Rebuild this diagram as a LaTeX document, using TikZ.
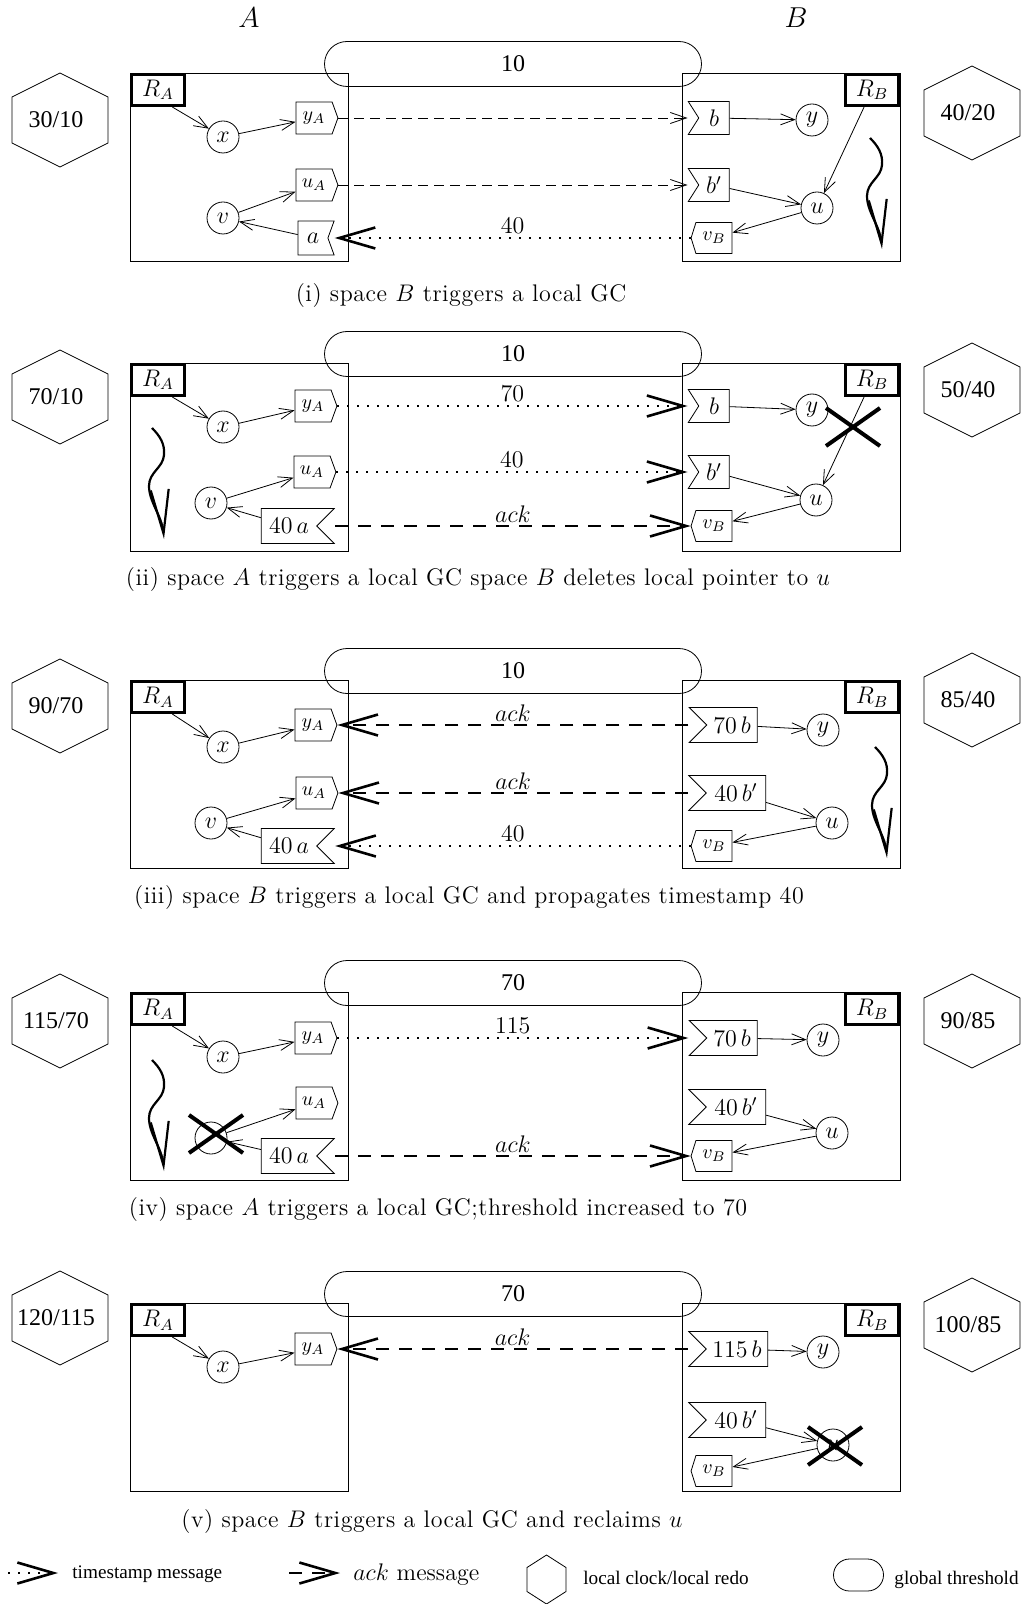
\documentclass[tikz,border=0pt,12pt]{standalone}
\usepackage{amsmath}
\usepackage{fontspec}
\newfontfamily\timesfont{Liberation Serif}
\newfontfamily\capfont[LetterSpace=2.2]{lmroman12-regular.otf}
\usetikzlibrary{arrows.meta,shapes.symbols,shapes.misc}

\tikzset{
  obj/.style={circle, draw, minimum size=16pt, inner sep=0pt},
  root/.style={draw, line width=1.5pt, minimum width=26.5pt, minimum height=15.5pt, inner sep=1pt, anchor=north west},
  spacebox/.style={draw, minimum width=109pt, minimum height=94pt, anchor=north west, inner sep=0pt},
  thold/.style={rounded rectangle, draw, minimum width=196.5pt, minimum height=22.5pt, font=\timesfont},
  clock/.style={font=\timesfont, inner sep=0pt},
  stubout/.style={signal, signal to=east, signal pointer angle=140, draw, minimum height=16pt, minimum width=21pt, inner sep=1pt, font=\footnotesize},
  stubin/.style={signal, signal to=west, signal pointer angle=145, draw, minimum height=15.5pt, minimum width=20.5pt, inner sep=1pt, font=\footnotesize},
  scion/.style={signal, signal to=nowhere, signal from=west, signal pointer angle=115, draw, minimum height=16.5pt, minimum width=20.5pt, inner sep=1pt},
  scionA/.style={signal, signal to=nowhere, signal from=east, signal pointer angle=140, draw, minimum height=17pt, minimum width=18pt, inner sep=1pt},
  stamped/.style={signal pointer angle=90, minimum height=17.5pt},
  ptr/.style={-{Straight Barb[length=7pt,width=5.5pt]}},
  refline/.style={dash pattern=on 5pt off 3pt, -{Straight Barb[length=8pt,width=5.5pt]}},
  tsmsg/.style={line width=1pt, dash pattern=on 1pt off 4pt, -{Straight Barb[length=18pt,width=10.5pt,line width=1.3pt]}},
  ackmsg/.style={line width=1pt, dash pattern=on 6.5pt off 5pt, -{Straight Barb[length=18pt,width=10.5pt,line width=1.3pt]}},
  msglbl/.style={above, inner sep=1.5pt},
  gcwave/.style={line width=1.1pt, -{Straight Barb[length=22pt,width=9pt,line width=1.1pt]}},
  killx/.style={line width=2pt},
  caption/.style={font=\capfont},
  legendtxt/.style={font=\timesfont\fontsize{9.6}{12}\selectfont, anchor=west, inner sep=0pt}
}

% local clock / local redo hexagon
\newcommand{\clockhex}[4]{%
  \draw[shift={(#2,#3)}] (0,-47) -- (48,-23) -- (48,23) -- (0,47) -- (-48,23) -- (-48,-23) -- cycle;
  \node[clock] (#1) at (#2-4,#3) {#4};}
% local GC
\newcommand{\gcwave}[2]{%
  \draw[gcwave, shift={(#1,#2)}] (0,0) .. controls (8,8) and (13,16) .. (12,27) .. controls (11,40) and (-3,44) .. (-3,58) .. controls (-3,74) and (10,88) .. (12,111);}
% deleted pointer / reclaimed object
\newcommand{\killmark}[2]{%
  \draw[killx] (#1-27,#2-19) -- (#1+27,#2+19) (#1-27,#2+19) -- (#1+27,#2-19);}

\begin{document}
\begin{tikzpicture}[x=0.5pt, y=-0.5pt]
\useasboundingbox (0,0) rectangle (1023,1604);

\node[font=\large] (lblA) at (249,18) {$A$};
\node[font=\large] (lblB) at (796,18) {$B$};

% (i)
\clockhex{hA1}{60}{120}{30/10}
\clockhex{hB1}{972}{113}{40/20}
\node[spacebox] (SA1) at (130,73) {};
\node[spacebox] (SB1) at (682,73) {};
\node[thold] (th1) at (513,64) {10};
\node[root] (RA1) at (130,73) {$R_A$};
\node[root, anchor=north east] (RB1) at (900,73) {$R_B$};
\node[obj] (x1) at (223,137) {$x$};
\node[obj] (v1) at (223,218) {$v$};
\node[stubout] (yA1) at (314,118) {$y_A$};
\node[stubout] (uA1) at (314,185) {$u_A$};
\node[scionA] (a1) at (313,238) {$a$};
\node[scion] (b1) at (714,118) {$b$};
\node[scion] (bb1) at (714,185) {$b'$};
\node[stubin] (vB1) at (714,238) {$v_B$};
\node[obj] (y1) at (812,120) {$y$};
\node[obj] (u1) at (817,208) {$u$};
\draw[ptr] (RA1.-50) -- (x1);
\draw[ptr] (x1) -- (yA1);
\draw[ptr] (v1) -- (uA1);
\draw[ptr] (a1) -- (v1);
\draw[ptr] (b1) -- (y1);
\draw[ptr] (bb1) -- (u1);
\draw[ptr] (RB1) -- (u1);
\draw[ptr] (u1) -- (vB1);
\draw[refline] (yA1.east) -- (b1.north west |- b1);
\draw[refline] (uA1.east) -- (bb1.north west |- bb1);
\draw[tsmsg] (vB1.west) -- (a1.north east |- a1) node[midway, msglbl] {40};
\gcwave{870}{138}
\node[caption] (cap1) at (461,296) {(i) space $B$ triggers a local GC};

% (ii)
\begin{scope}[shift={(0,290)}]
\clockhex{hA2}{60}{107}{70/10}
\clockhex{hB2}{972}{100}{50/40}
\node[spacebox] (SA2) at (130,73) {};
\node[spacebox] (SB2) at (682,73) {};
\node[thold] (th2) at (513,64) {10};
\node[root] (RA2) at (130,73) {$R_A$};
\node[root, anchor=north east] (RB2) at (900,73) {$R_B$};
\node[obj] (x2) at (223,137) {$x$};
\node[obj] (v2) at (211,213) {$v$};
\node[stubout] (yA2) at (313,116) {$y_A$};
\node[stubout] (uA2) at (312,182) {$u_A$};
\node[scionA, stamped, minimum width=36.5pt] (a2) at (289,236) {40\,$a$};
\node[scion] (b2) at (714,116) {$b$};
\node[scion] (bb2) at (714,182) {$b'$};
\node[stubin] (vB2) at (714,236) {$v_B$};
\node[obj] (y2) at (812,120) {$y$};
\node[obj] (u2) at (816,210) {$u$};
\draw[ptr] (RA2.-50) -- (x2);
\draw[ptr] (x2) -- (yA2);
\draw[ptr] (v2) -- (uA2);
\draw[ptr] (a2) -- (v2);
\draw[ptr] (b2) -- (y2);
\draw[ptr] (bb2) -- (u2);
\draw[ptr] (RB2) -- (u2);
\draw[ptr] (u2) -- (vB2);
\draw[tsmsg] (yA2.east) -- (b2.north west |- b2) node[midway, msglbl] {70};
\draw[tsmsg] (uA2.east) -- (bb2.north west |- bb2) node[midway, msglbl] {40};
\draw[ackmsg] (a2.north east |- a2) -- (vB2.west) node[midway, msglbl] {$ack$};
\killmark{853}{137}
\gcwave{152}{138}
\node[caption] (cap2) at (478,290) {(ii) space $A$ triggers a local GC space $B$ deletes local pointer to $u$};
\end{scope}

% (iii)
\begin{scope}[shift={(0,607)}]
\clockhex{hA3}{60}{99}{90/70}
\clockhex{hB3}{972}{93}{85/40}
\node[spacebox] (SA3) at (130,73) {};
\node[spacebox] (SB3) at (682,73) {};
\node[thold] (th3) at (513,64) {10};
\node[root] (RA3) at (130,73) {$R_A$};
\node[root, anchor=north east] (RB3) at (900,73) {$R_B$};
\node[obj] (x3) at (223,140) {$x$};
\node[obj] (v3) at (211,216) {$v$};
\node[stubout] (yA3) at (313,118) {$y_A$};
\node[stubout] (uA3) at (314,186) {$u_A$};
\node[scionA, stamped, minimum width=36.5pt] (a3) at (289,239) {40\,$a$};
\node[scion, stamped, minimum width=34pt] (b3) at (732,118) {70\,$b$};
\node[scion, stamped, minimum width=38.5pt] (bb3) at (736,186) {40\,$b'$};
\node[stubin] (vB3) at (714,239) {$v_B$};
\node[obj] (y3) at (823,123) {$y$};
\node[obj] (u3) at (832,216) {$u$};
\draw[ptr] (RA3.-50) -- (x3);
\draw[ptr] (x3) -- (yA3);
\draw[ptr] (v3) -- (uA3);
\draw[ptr] (a3) -- (v3);
\draw[ptr] (b3) -- (y3);
\draw[ptr] (bb3) -- (u3);
\draw[ptr] (u3) -- (vB3);
\draw[ackmsg] (b3.north west |- b3) -- (yA3.east) node[midway, msglbl] {$ack$};
\draw[ackmsg] (bb3.north west |- bb3) -- (uA3.east) node[midway, msglbl] {$ack$};
\draw[tsmsg] (vB3.west) -- (a3.north east |- a3) node[midway, msglbl] {40};
\gcwave{875}{140}
\node[caption] (cap3) at (469,291) {(iii) space $B$ triggers a local GC and propagates timestamp 40};
\end{scope}

% (iv)
\begin{scope}[shift={(0,919)}]
\clockhex{hA4}{60}{102}{115/70}
\clockhex{hB4}{972}{102}{90/85}
\node[spacebox] (SA4) at (130,73) {};
\node[spacebox] (SB4) at (682,73) {};
\node[thold] (th4) at (513,64) {70};
\node[root] (RA4) at (130,73) {$R_A$};
\node[root, anchor=north east] (RB4) at (900,73) {$R_B$};
\node[obj] (x4) at (223,138) {$x$};
\node[obj] (v4) at (211,219) {};
\node[stubout] (yA4) at (313,119) {$y_A$};
\node[stubout] (uA4) at (314,184) {$u_A$};
\node[scionA, stamped, minimum width=36.5pt] (a4) at (289,237) {40\,$a$};
\node[scion, stamped, minimum width=34pt] (b4) at (732,119) {70\,$b$};
\node[scion, stamped, minimum width=38.5pt] (bb4) at (736,188) {40\,$b'$};
\node[stubin] (vB4) at (714,237) {$v_B$};
\node[obj] (y4) at (823,121) {$y$};
\node[obj] (u4) at (832,214) {$u$};
\draw[ptr] (RA4.-50) -- (x4);
\draw[ptr] (x4) -- (yA4);
\draw[ptr] (v4) -- (uA4);
\draw[ptr] (a4) -- (v4);
\draw[ptr] (b4) -- (y4);
\draw[ptr] (bb4) -- (u4);
\draw[ptr] (u4) -- (vB4);
\draw[tsmsg] (yA4.east) -- (b4.north west |- b4) node[midway, msglbl] {115};
\draw[ackmsg] (a4.north east |- a4) -- (vB4.west) node[midway, msglbl] {$ack$};
\killmark{216}{215}
\gcwave{152}{141}
\node[caption] (cap4) at (438,290) {(iv) space $A$ triggers a local GC;threshold increased to 70};
\end{scope}

% (v)
\begin{scope}[shift={(0,1230)}]
\clockhex{hA5}{60}{88}{120/115}
\clockhex{hB5}{972}{95}{100/85}
\node[spacebox] (SA5) at (130,73) {};
\node[spacebox] (SB5) at (682,73) {};
\node[thold] (th5) at (513,64) {70};
\node[root] (RA5) at (130,73) {$R_A$};
\node[root, anchor=north east] (RB5) at (900,73) {$R_B$};
\node[obj] (x5) at (223,137) {$x$};
\node[stubout] (yA5) at (313,119) {$y_A$};
\node[scion, stamped, minimum width=39.5pt] (b5) at (737,119) {115\,$b$};
\node[scion, stamped, minimum width=38.5pt] (bb5) at (736,190) {40\,$b'$};
\node[stubin] (vB5) at (714,241) {$v_B$};
\node[obj] (y5) at (823,122) {$y$};
\node[obj] (u5) at (833,215) {$u$};
\draw[ptr] (RA5.-50) -- (x5);
\draw[ptr] (x5) -- (yA5);
\draw[ptr] (b5) -- (y5);
\draw[ptr] (bb5) -- (u5);
\draw[ptr] (u5) -- (vB5);
\draw[ackmsg] (b5.north west |- b5) -- (yA5.east) node[midway, msglbl] {$ack$};
\killmark{835}{216}
\node[caption] (cap5) at (432,291) {(v) space $B$ triggers a local GC and reclaims $u$};
\end{scope}

% legend
\coordinate (lgT0) at (8,1573);
\coordinate (lgT1) at (58,1573);
\draw[tsmsg] (lgT0) -- (lgT1);
\node[legendtxt] (lgTtxt) at (72,1574) {timestamp message};
\coordinate (lgA0) at (289,1573);
\coordinate (lgA1) at (340,1573);
\draw[ackmsg] (lgA0) -- (lgA1);
\node[anchor=west, inner sep=0pt] (lgAtxt) at (353,1575) {$ack$ message};
\draw (546.5,1555) -- (566,1567.5) -- (566,1591.5) -- (546.5,1604) -- (527,1591.5) -- (527,1567.5) -- cycle;
\node[legendtxt] (lgHtxt) at (583,1578) {local clock/local redo};
\node[thold, minimum width=33pt, minimum height=16pt] (lgP) at (858.5,1575) {};
\node[legendtxt] (lgPtxt) at (894,1580) {global threshold};
\end{tikzpicture}
\end{document}
